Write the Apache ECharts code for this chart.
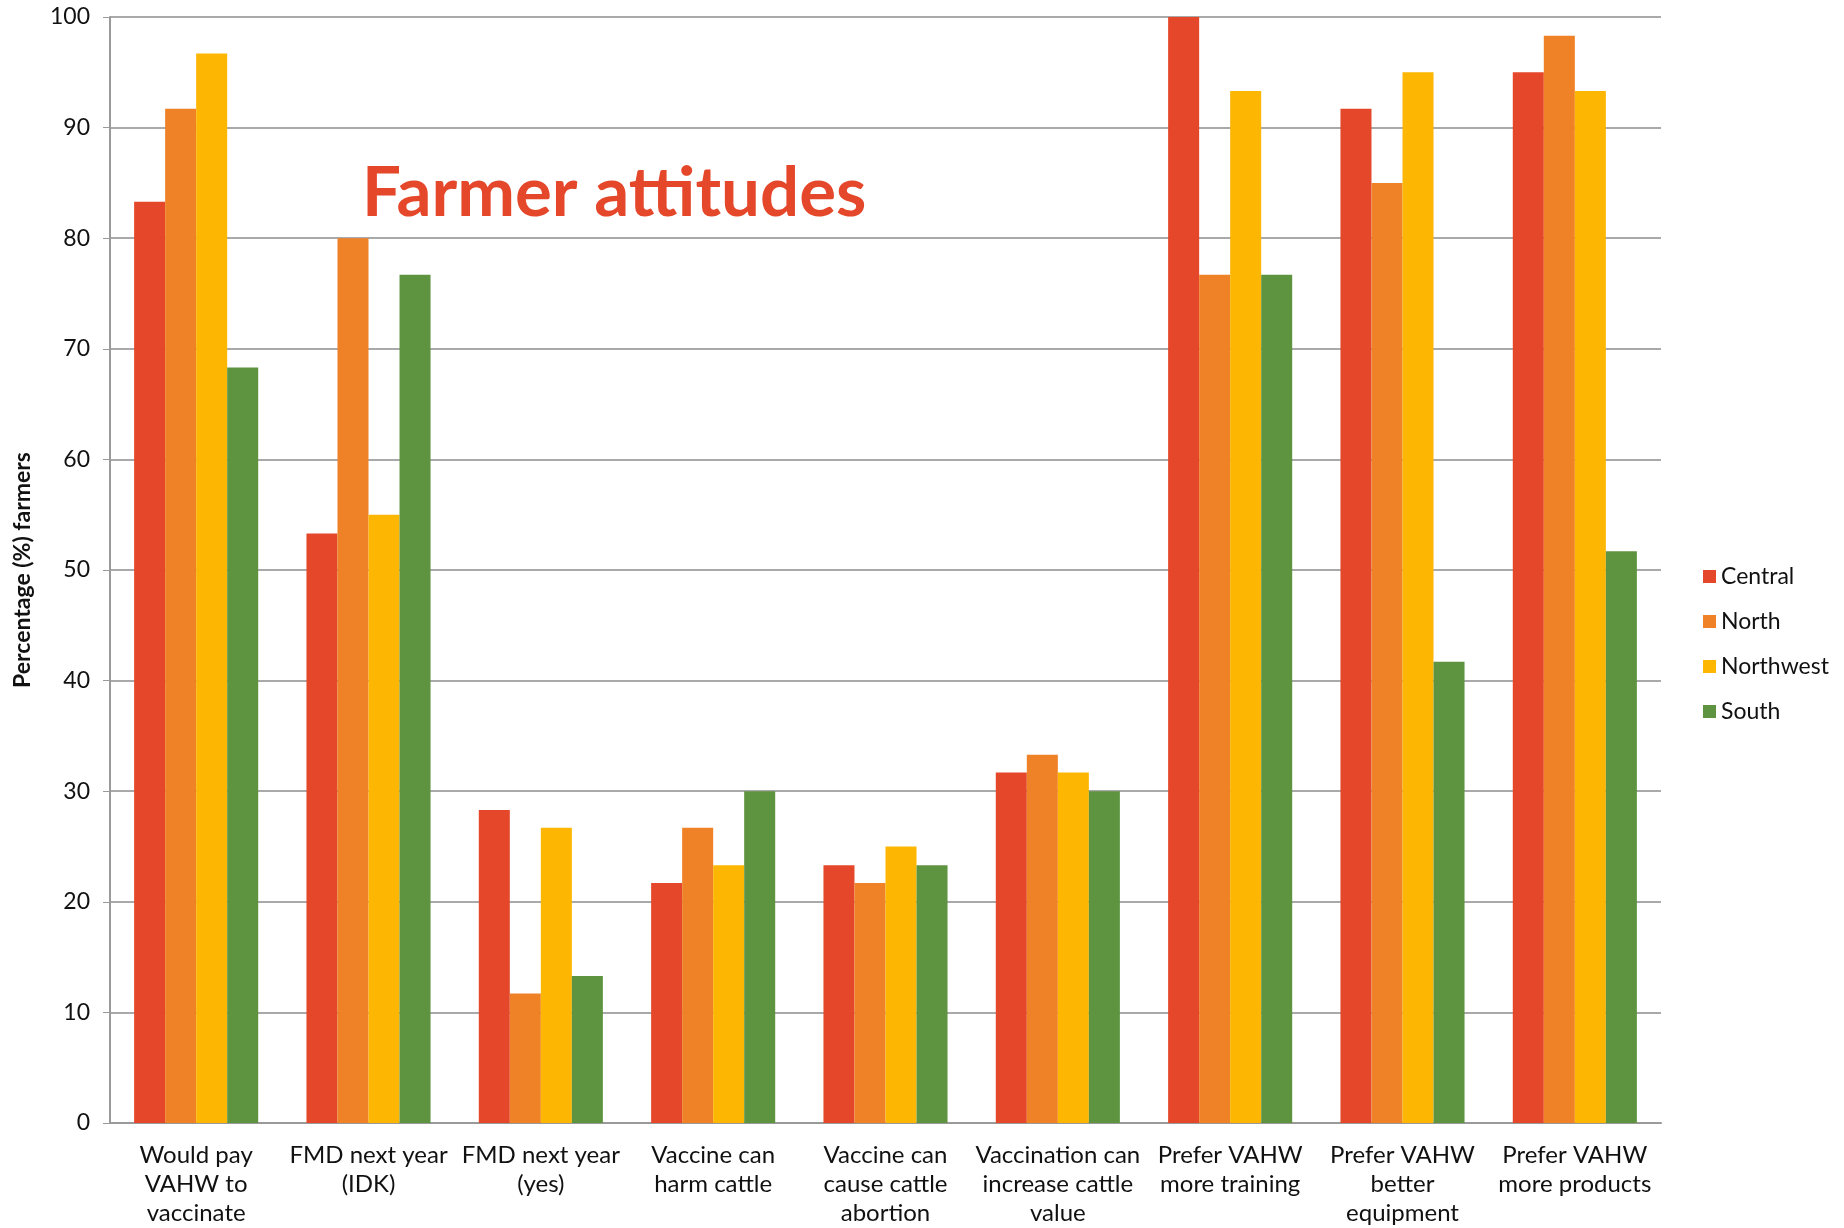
<!DOCTYPE html>
<html>
<head>
    <meta charset="UTF-8">
    <title>Farmer attitudes</title>
    <script src="https://cdn.jsdelivr.net/npm/echarts@6/dist/echarts.min.js"></script>
    <style>
        html, body { margin: 0; padding: 0; background: #fff; }
        #chart { width: 1844px; height: 1228px; }
    </style>
</head>
<body>
<div id="chart"></div>
<script type="text/javascript">
    // categories (line breaks as on the original axis)
    var categories = [
        'Would pay\nVAHW to\nvaccinate',
        'FMD next year\n(IDK)',
        'FMD next year\n(yes)',
        'Vaccine can\nharm cattle',
        'Vaccine can\ncause cattle\nabortion',
        'Vaccination can\nincrease cattle\nvalue',
        'Prefer VAHW\nmore training',
        'Prefer VAHW\nbetter\nequipment',
        'Prefer VAHW\nmore products'
    ];
    var central   = [83.3, 53.3, 28.3, 21.7, 23.3, 31.7, 100, 91.7, 95];
    var north     = [91.7, 80, 11.7, 26.7, 21.7, 33.3, 76.7, 85, 98.3];
    var northwest = [96.7, 55, 26.7, 23.3, 25, 31.7, 93.3, 95, 93.3];
    var south     = [68.3, 76.7, 13.3, 30, 23.3, 30, 76.7, 41.7, 51.7];

    var font = 'Lato, "Open Sans", sans-serif';
    var chart = echarts.init(document.getElementById('chart'));

    var option = {
        animation: false,
        title: {
            text: 'Farmer attitudes',
            left: 357,
            top: 154,
            textStyle: {
                color: '#E5472A',
                fontFamily: font,
                fontWeight: 'bold',
                fontSize: 69
            }
        },
        legend: {
            orient: 'vertical',
            left: 1698,
            top: 560,
            itemWidth: 13,
            itemHeight: 13,
            itemGap: 22,
            icon: 'rect',
            textStyle: { fontFamily: font, fontSize: 23, color: '#111' },
            data: ['Central', 'North', 'Northwest', 'South']
        },
        grid: {
            left: 110,
            right: 183,
            top: 17,
            bottom: 102
        },
        xAxis: {
            type: 'category',
            data: categories,
            axisLine: { lineStyle: { color: '#9a9a9a', width: 2 } },
            axisTick: { show: false },
            axisLabel: {
                interval: 0,
                margin: 18,
                fontFamily: font,
                fontSize: 24,
                lineHeight: 29,
                color: '#111'
            }
        },
        yAxis: {
            type: 'value',
            min: 0,
            max: 100,
            interval: 10,
            name: 'Percentage (%) farmers',
            nameLocation: 'middle',
            nameGap: 76,
            nameTextStyle: { fontFamily: font, fontWeight: 'bold', fontSize: 23, color: '#111' },
            axisLine: { show: true, lineStyle: { color: '#9a9a9a', width: 2 } },
            axisTick: { show: true, length: 7, lineStyle: { color: '#9a9a9a' } },
            axisLabel: { fontFamily: font, fontSize: 23, color: '#111', margin: 20 },
            splitLine: { lineStyle: { color: '#8c8c8c', width: 1.5 } }
        },
        series: [
            { name: 'Central', type: 'bar', data: central, itemStyle: { color: '#E5472A' }, barGap: '0%', barCategoryGap: '28%' },
            { name: 'North', type: 'bar', data: north, itemStyle: { color: '#EF8127' } },
            { name: 'Northwest', type: 'bar', data: northwest, itemStyle: { color: '#FDB702' } },
            { name: 'South', type: 'bar', data: south, itemStyle: { color: '#5E9340' } }
        ]
    };

    chart.setOption(option);
</script>
</body>
</html>
